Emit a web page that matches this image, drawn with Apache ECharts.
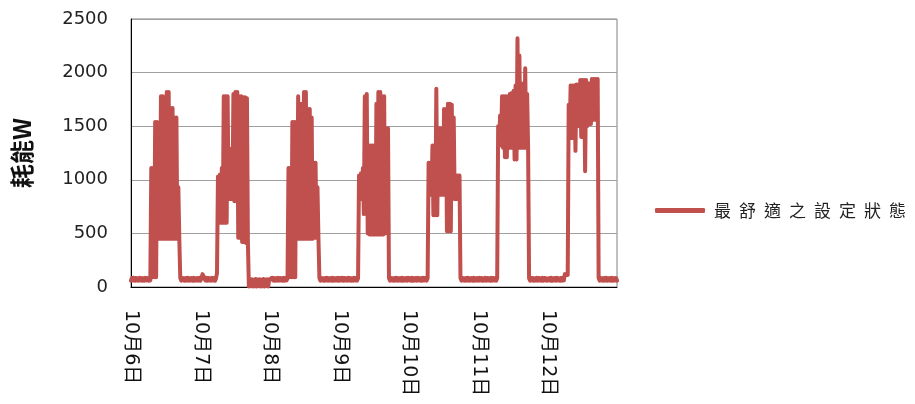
<!DOCTYPE html>
<html>
<head>
<meta charset="utf-8">
<script src="https://cdn.jsdelivr.net/npm/echarts@6/dist/echarts.min.js"></script>
<style>
  html, body { margin: 0; padding: 0; background: #ffffff; }
  #chart { width: 915px; height: 404px; }
</style>
</head>
<body>
<div id="chart"></div>
<script>
// Power draw (W) sampled every 20 minutes, one array per day (72 samples each).
const dayLabels = ['10月6日', '10月7日', '10月8日', '10月9日', '10月10日', '10月11日', '10月12日'];

const day6 = [
  60,84,62,86,58,84,62,82,60,86,62,84,58,82,60,86,62,84,60,82,62,
  1110,90,1110,90,1540,90,1540,450,1110,450,1780,450,1780,450,1730,450,1820,450,1820,450,
  1670,450,1670,450,1580,450,1580,450,930,450,
  84,60,86,62,82,58,84,62,86,60,82,62,84,58,86,60,82,62,84,60,86
];

const day7 = [
  60,84,120,120,120,62,86,58,84,62,82,60,86,62,84,58,82,130,
  1030,600,1050,600,1110,600,1780,600,1780,600,1780,820,1290,820,1290,820,1800,800,1820,800,
  1820,460,1780,460,1780,420,1770,420,1770,410,1760,410,
  5,70,8,72,4,68,6,74,5,70,8,72,4,68,6,74,5,70,8,72,4,68
];

const day8 = [
  82,60,86,62,84,58,82,62,86,60,84,62,82,58,86,60,84,62,82,
  1110,90,1110,90,1540,90,1540,90,1540,450,1780,450,1710,450,1710,450,1820,450,1820,450,
  1660,450,1660,450,1580,450,1160,460,1160,460,930,460,
  84,60,86,62,82,58,84,62,86,60,82,62,84,58,86,60,82,62,84,60,86
];

const day9 = [
  60,84,62,86,58,84,62,82,60,86,62,84,58,82,60,86,62,84,60,82,
  1040,820,1060,820,1110,680,1780,680,1800,500,1320,490,1320,490,1320,490,1320,490,1710,490,
  1820,490,1820,490,1780,490,1780,500,1480,520,1480,
  84,60,86,62,82,58,84,62,86,60,82,62,84,58,86,60,82,62,84,60,86
];

const day10 = [
  62,84,60,86,58,82,62,84,60,86,62,82,58,84,60,86,62,84,60,82,
  1160,860,1160,860,1320,670,1320,670,1850,670,1480,860,1480,860,1170,860,1660,860,1660,520,
  1710,520,1710,520,1700,820,1580,820,1040,820,1040,820,1040,
  84,60,86,62,82,58,84,62,86,60,82,62,84,58,86,60,82,62,84
];

const day11 = [
  60,86,62,84,58,82,62,86,60,84,62,82,58,86,60,84,62,82,60,84,
  1500,1320,1600,1320,1780,1300,1780,1210,1780,1210,1780,1300,1800,1300,1810,1300,1830,1190,1880,1190,
  2320,1300,2160,1300,1900,1300,1820,1300,2040,1300,1800,1300,
  82,60,86,62,84,58,82,62,86,60,84,62,82,58,86,60,84,62,82,60
];

const day12 = [
  62,84,60,86,58,82,62,84,60,86,62,82,58,84,60,86,62,120,112,120,112,
  1700,1390,1880,1390,1880,1390,1880,1270,1890,1500,1890,1500,1930,1400,1930,1400,1930,1080,1930,1500,
  1900,1520,1900,1520,1940,1560,1940,1560,1940,1560,1940,
  84,60,86,62,82,58,84,62,86,60,82,62,84,58,86,60,82,62,84,60
];

const seriesName = '最舒適之設定狀態';
const yAxisTitle = '耗能W';
const yMin = 0, yMax = 2500, yStep = 500;

// Category axis entries look like "10月6日 07:20"; only the date part is shown.
const days = [day6, day7, day8, day9, day10, day11, day12];
const slotTimes = [];
for (let k = 0; k < 72; k++) {
  const h = Math.floor(k / 3), m = (k % 3) * 20;
  slotTimes.push((h < 10 ? '0' : '') + h + ':' + (m < 10 ? '0' : '') + m);
}
const categories = [];
const values = [];
days.forEach((arr, d) => {
  arr.forEach((v, k) => {
    categories.push(dayLabels[d] + ' ' + slotTimes[k]);
    values.push(v);
  });
});

const red = '#C0504D';
const chart = echarts.init(document.getElementById('chart'));
chart.setOption({
  animation: false,
  backgroundColor: '#ffffff',
  grid: {
    left: 131, right: 298, top: 19, bottom: 117,
    show: true, borderColor: '#808080', borderWidth: 1, backgroundColor: 'transparent'
  },
  legend: {
    left: 655, top: 202, padding: 0,
    icon: 'roundRect',
    itemWidth: 50, itemHeight: 5,
    data: [seriesName],
    formatter: name => name.split('').map(ch => '{c|' + ch + '}').join(''),
    textStyle: {
      color: '#222',
      fontFamily: 'Noto Sans CJK TC',
      fontSize: 17,
      rich: { c: { width: 25, align: 'center', fontSize: 17, fontFamily: 'Noto Sans CJK TC', color: '#222' } }
    }
  },
  xAxis: {
    type: 'category',
    data: categories,
    boundaryGap: false,
    axisLine: { show: true, lineStyle: { color: '#000', width: 1 } },
    axisTick: { show: false },
    splitLine: { show: false },
    axisLabel: {
      interval: idx => idx % 72 === 0,
      rotate: -90,
      margin: 23,
      fontSize: 19,
      color: '#111',
      fontFamily: 'DejaVu Sans, Noto Sans CJK TC',
      formatter: v => v.split(' ')[0]
    }
  },
  yAxis: {
    type: 'value',
    min: yMin, max: yMax, interval: yStep,
    name: yAxisTitle,
    nameLocation: 'middle',
    nameRotate: 90,
    nameGap: 97,
    nameTextStyle: { fontSize: 24, fontWeight: 'bold', color: '#111', fontFamily: 'Noto Sans CJK TC' },
    axisLine: { show: true, lineStyle: { color: '#000', width: 1 } },
    axisTick: { show: false },
    splitLine: { show: true, lineStyle: { color: '#a0a0a0', width: 1 } },
    axisLabel: { fontSize: 18, color: '#222', margin: 23, fontFamily: 'DejaVu Sans', formatter: v => String(v) }
  },
  series: [{
    name: seriesName,
    type: 'line',
    data: values,
    symbol: 'none',
    color: red,
    lineStyle: { color: red, width: 4, join: 'round', cap: 'round' }
  }]
});
</script>
</body>
</html>
